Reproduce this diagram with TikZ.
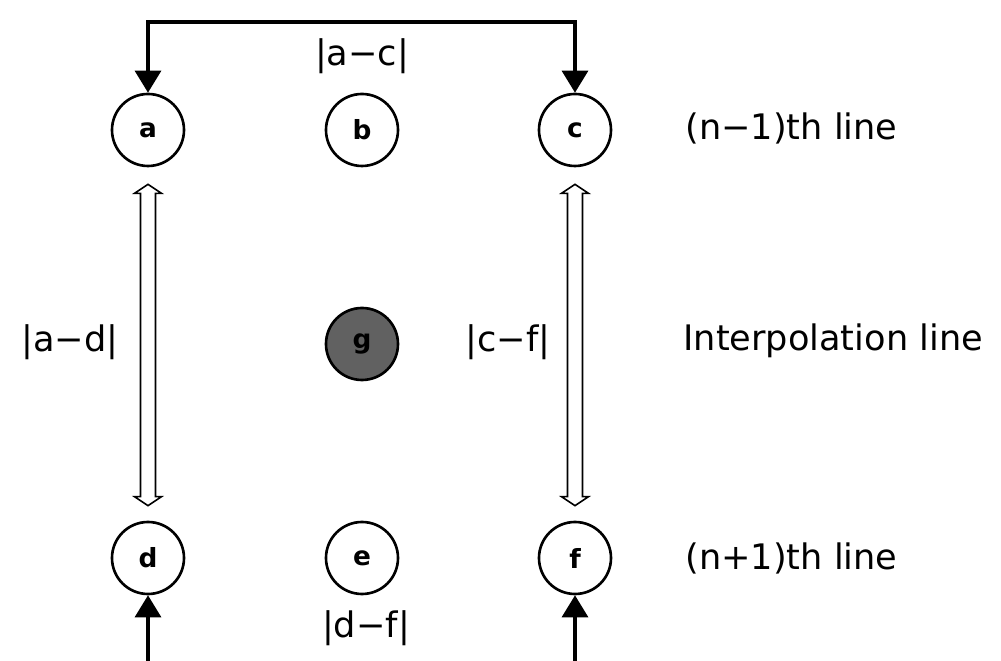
\documentclass[tikz,border=0pt]{standalone}
\usepackage{fontspec}
\setmainfont{DejaVu Sans}
\usetikzlibrary{arrows.meta,calc}

\begin{document}
\begin{tikzpicture}[>={Triangle[width=0.52cm,length=0.44cm]},
    pel/.style={draw,circle,line width=1.5pt,minimum size=1.44cm,inner sep=0pt,font=\fontsize{15}{18}\selectfont\bfseries},
    lbl/.style={font=\fontsize{20}{24}\selectfont,inner sep=0pt},
    hollow/.style={draw,line width=0.9pt,fill=white},
    link/.style={line width=1.8pt}]
    \useasboundingbox (0,0) rectangle (20.02,13.22);
    \node[pel] (a) at (2.96,10.62) {a};
    \node[pel] (b) at (7.24,10.62) {b};
    \node[pel] (c) at (11.50,10.62) {c};
    \node[pel,fill=black!62] (g) at (7.24,6.34) {g};
    \node[pel] (d) at (2.96,2.06) {d};
    \node[pel] (e) at (7.24,2.06) {e};
    \node[pel] (f) at (11.50,2.06) {f};
    \coordinate (top) at (0,12.78);
    \coordinate (bot) at (0,0);
    \draw[link,<->] (a.north) -- (a.north |- top) -- (c.north |- top) -- (c.north);
    \draw[link,->] (d.south |- bot) -- (d.south);
    \draw[link,->] (f.south |- bot) -- (f.south);
    \foreach \u/\l in {a/d,c/f}
      \draw[hollow] let \p1=($(\u.south)+(0,-0.34)$), \p2=($(\l.north)+(0,0.30)$) in
        (\x1,\y1) -- ++(0.27,-0.18) -- ++(-0.12,0) -- (\x1+0.15cm,\y2+0.18cm) -- ++(0.12,0) -- (\x1,\y2)
        -- ++(-0.27,0.18) -- ++(0.12,0) -- (\x1-0.15cm,\y1-0.18cm) -- ++(-0.12,0) -- cycle;
    \node[lbl] (ac) at (7.24,12.10) {|a−c|};
    \node[lbl] (ad) at (1.40,6.38) {|a−d|};
    \node[lbl] (cf) at (10.16,6.38) {|c−f|};
    \node[lbl] (df) at (7.32,0.66) {|d−f|};
    \node[lbl,anchor=west] (prev) at (13.70,10.66) {(n−1)th line};
    \node[lbl,anchor=west] (interp) at (13.66,6.40) {Interpolation line};
    \node[lbl,anchor=west] (next) at (13.70,2.06) {(n+1)th line};
  \end{tikzpicture}
\end{document}
